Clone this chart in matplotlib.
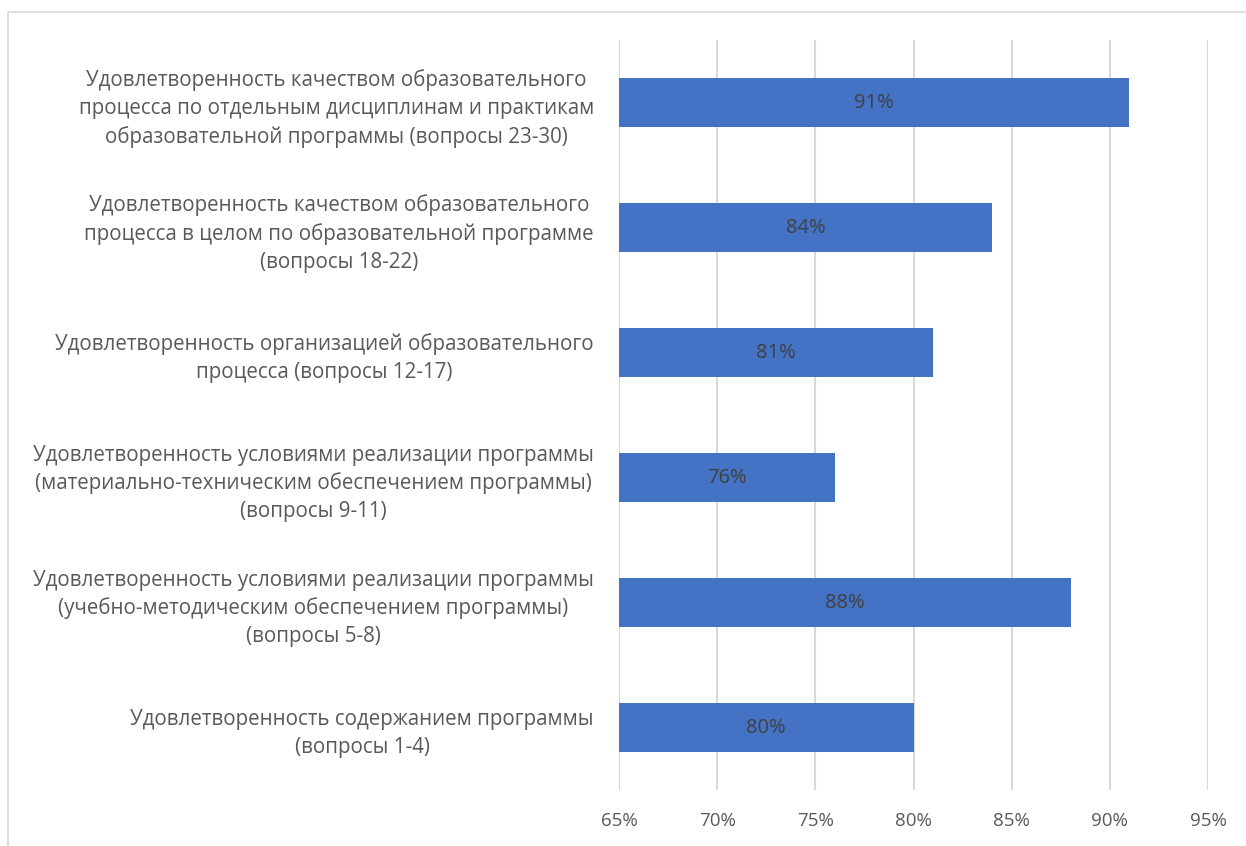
import matplotlib
matplotlib.use("Agg")
import matplotlib.pyplot as plt
from matplotlib.patches import Rectangle

# ── Data ──────────────────────────────────────────────────────────────────────
categories = [
    "Удовлетворенность качеством образовательного\nпроцесса по отдельным дисциплинам и практикам\nобразовательной программы (вопросы 23-30)",
    "Удовлетворенность качеством образовательного\nпроцесса в целом по образовательной программе\n(вопросы 18-22)",
    "Удовлетворенность организацией образовательного\nпроцесса (вопросы 12-17)",
    "Удовлетворенность условиями реализации программы\n(материально-техническим обеспечением программы)\n(вопросы 9-11)",
    "Удовлетворенность условиями реализации программы\n(учебно-методическим обеспечением программы)\n(вопросы 5-8)",
    "Удовлетворенность содержанием программы\n(вопросы 1-4)",
]
values = [91, 84, 81, 76, 88, 80]
x_ticks = [65, 70, 75, 80, 85, 90, 95]

plt.rcParams["font.family"] = ["Open Sans", "DejaVu Sans"]
TEXT = "#595959"
BAR = "#4472C4"

W, H = 1246, 846
fig = plt.figure(figsize=(W / 100, H / 100), dpi=100)
ax = fig.add_axes([619 / W, 1 - 790 / H, (1208 - 619) / W, 750 / H])

# chart frame (light grey, partly outside the picture)
fig.patches.append(Rectangle((8 / W, -0.1), 1.2, 1.1 - 12 / H,
                             transform=fig.transFigure, fill=False,
                             edgecolor="#D9D9D9", lw=1.2))

ypos = list(range(len(categories)))[::-1]
ax.barh(ypos, [v - 65 for v in values], left=65, height=0.39, color=BAR, zorder=2)
for y, v in zip(ypos, values):
    ax.text(65 + (v - 65) / 2, y, f"{v}%", ha="center", va="center",
            fontsize=14.5, color="#404040", zorder=3)

ax.set_xlim(65, 95)
ax.set_ylim(-0.5, len(categories) - 0.5)
ax.set_xticks(x_ticks)
ax.set_xticklabels([f"{t}%" for t in x_ticks], fontsize=13.5, color=TEXT)
ax.set_yticks(ypos)
ax.set_yticklabels(categories, fontsize=14.8, color=TEXT, linespacing=1.42,
                   multialignment="center")
ax.tick_params(axis="both", length=0)
ax.tick_params(axis="y", pad=18)
ax.tick_params(axis="x", pad=16)
ax.grid(axis="x", color="#D9D9D9", lw=1.5, zorder=0)
for s in ax.spines.values():
    s.set_visible(False)

plt.savefig("out.png", dpi=100)
